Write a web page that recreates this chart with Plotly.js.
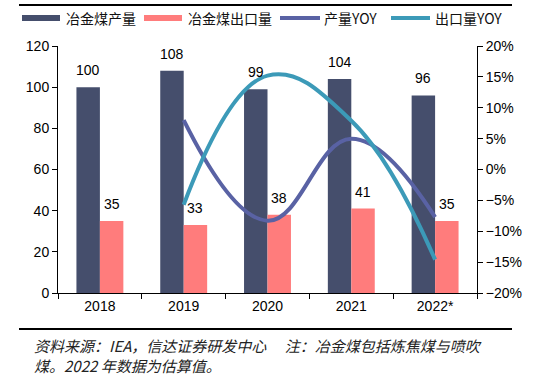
<!DOCTYPE html>
<html><head><meta charset="utf-8">
<script src="https://cdn.plot.ly/plotly-3.0.1.min.js"></script>
<style>html,body{margin:0;padding:0;background:#fff}#c{width:550px;height:386px}</style>
</head><body><div id="c"></div>
<script>
var years = ['2018','2019','2020','2021','2022*'];
var production = [100,108,99,104,96];
var exportsVol = [35,33,38,41,35];
var yoyYears = ['2019','2020','2021','2022*'];
var prodYoy = [0.080,-0.083,0.050,-0.077];
var exportYoy = [-0.057,0.152,0.079,-0.146];
var names = ['冶金煤产量','冶金煤出口量','产量YOY','出口量YOY'];
var colors = ['#454e6c','#ff7c7c','#5962a4','#3c9ab8'];

var W=550,H=386,L=58,R=73,T=46,B=93;
var pw=W-L-R, ph=H-T-B;
function px(x){return (x-L)/pw;}
function py(y){return (H-B-y)/ph;}

var traces = [
 {type:'bar',x:years,y:production,name:names[0],marker:{color:colors[0]},yaxis:'y'},
 {type:'bar',x:years,y:exportsVol,name:names[1],marker:{color:colors[1]},yaxis:'y'},
 {type:'scatter',mode:'lines',x:yoyYears,y:prodYoy,name:names[2],yaxis:'y2',line:{color:colors[2],width:4,shape:'spline',smoothing:1.2}},
 {type:'scatter',mode:'lines',x:yoyYears,y:exportYoy,name:names[3],yaxis:'y2',line:{color:colors[3],width:4,shape:'spline',smoothing:1.2}}
];

var bargap=0.44;
var catW = pw/years.length;
var barW = catW*(1-bargap)/2;
var ann=[];
var lf={family:'Liberation Sans, Arial',size:14,color:'#000'};
years.forEach(function(yr,i){
  ann.push({x:i,y:production[i],xref:'x',yref:'y',text:String(production[i]),showarrow:false,xshift:-barW/2,yshift:17,font:lf});
  ann.push({x:i,y:exportsVol[i],xref:'x',yref:'y',text:String(exportsVol[i]),showarrow:false,xshift:barW/2,yshift:17,font:lf});
});
// custom legend
var shapes=[];
var leg=[[22,60,64,'rect'],[144,182,186,'rect'],[280,320,322,'line'],[391,430,433,'line']];
leg.forEach(function(l,i){
  if(l[3]==='rect'){
    shapes.push({type:'rect',xref:'paper',yref:'paper',x0:px(l[0]),x1:px(l[1]),y0:py(21),y1:py(15),fillcolor:colors[i],line:{width:0}});
  } else {
    shapes.push({type:'line',xref:'paper',yref:'paper',x0:px(l[0]),x1:px(l[1]),y0:py(18),y1:py(18),line:{color:colors[i],width:4}});
  }
  ann.push({xref:'paper',yref:'paper',x:px(l[2]),y:py(18),xanchor:'left',yanchor:'middle',text:names[i],showarrow:false,font:{family:'Noto Sans CJK SC',size:14,color:'#111'}});
});
shapes.push({type:'line',xref:'paper',yref:'paper',x0:px(19),x1:px(512),y0:py(5),y1:py(5),line:{color:'#000',width:2}});
shapes.push({type:'line',xref:'paper',yref:'paper',x0:px(19),x1:px(512),y0:py(329),y1:py(329),line:{color:'#000',width:2}});
ann.push({xref:'paper',yref:'paper',x:px(32),y:py(345),xanchor:'left',yanchor:'middle',showarrow:false,text:'<i>资料来源：IEA，信达证券研发中心　 注：冶金煤包括炼焦煤与喷吹</i>',font:{family:'Noto Sans CJK SC',size:15,color:'#222'}});
ann.push({xref:'paper',yref:'paper',x:px(32),y:py(365),xanchor:'left',yanchor:'middle',showarrow:false,text:'<i>煤。2022 年数据为估算值。</i>',font:{family:'Noto Sans CJK SC',size:15,color:'#222'}});

var tf={family:'Liberation Sans, Arial',size:14,color:'#000'};
var layout={
 width:W,height:H,margin:{l:L,r:R,t:T,b:B,pad:0},
 paper_bgcolor:'#fff',plot_bgcolor:'#fff',
 showlegend:false,barmode:'group',bargap:bargap,bargroupgap:0,
 font:tf,
 xaxis:{type:'category',range:[-0.5,4.5],showline:true,linecolor:'#000',linewidth:1,ticks:'outside',ticklen:5,tickcolor:'#000',tickson:'boundaries',showgrid:false,zeroline:false,tickfont:tf},
 yaxis:{range:[0,120],dtick:20,showline:true,linecolor:'#000',linewidth:1,ticks:'outside',ticklen:5,tickcolor:'#000',showgrid:false,zeroline:false,tickfont:tf},
 yaxis2:{range:[-0.2,0.2],dtick:0.05,tickformat:'.0%',overlaying:'y',side:'right',showline:true,linecolor:'#000',linewidth:1,ticks:'outside',ticklen:5,tickcolor:'#000',showgrid:false,zeroline:false,tickfont:tf},
 annotations:ann,shapes:shapes
};
Plotly.newPlot('c',traces,layout,{displayModeBar:false,staticPlot:true});
</script></body></html>
